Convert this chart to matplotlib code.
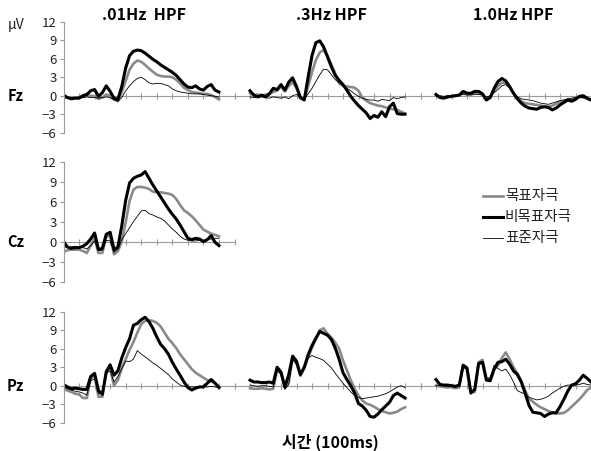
import numpy as np
import matplotlib.pyplot as plt
from matplotlib.lines import Line2D

plt.rcParams['font.family'] = ['Noto Sans CJK KR', 'DejaVu Sans']

# 시간축 (ms), 25 ms 간격
t_ms = np.arange(-100, 901, 25)

# Fz, .01Hz HPF
fz01_target = [-0.2,-0.3,-0.4,-0.3,-0.3,-0.2,0.0,0.0,-0.1,-0.5,-0.3,0.2,0.0,-0.6,-0.9,0.6,2.4,4.2,5.2,5.7,5.5,5.0,4.4,3.9,3.4,3.2,3.1,3.1,3.0,2.6,2.0,1.3,0.9,0.6,0.5,0.4,0.3,0.3,0.1,-0.2,-0.6]
fz01_nontarget = [0.1,-0.3,-0.5,-0.4,-0.4,0.0,0.2,0.8,1.0,-0.1,0.5,1.6,0.7,-0.4,-0.6,1.5,4.5,6.5,7.2,7.4,7.3,6.9,6.4,5.9,5.5,5.0,4.6,4.2,3.8,3.3,2.6,1.9,1.4,1.3,1.6,1.1,0.9,1.5,1.8,0.9,0.6]
fz01_standard = [-0.2,-0.3,-0.3,-0.3,-0.3,-0.3,-0.2,-0.3,-0.3,-0.4,-0.3,-0.2,-0.3,-0.7,-0.9,-0.3,0.8,1.6,2.3,2.8,3.0,2.6,2.1,1.9,2.0,2.0,1.8,1.6,1.1,0.8,0.6,0.5,0.4,0.3,0.3,0.3,0.2,0.1,0.0,-0.1,-0.2]

# Fz, .3Hz HPF
fz3_target = [0.4,0.1,0.2,0.0,0.2,0.3,0.6,0.8,1.5,0.7,1.6,2.2,1.2,-0.4,-0.6,1.5,3.8,5.8,7.0,7.4,6.5,5.0,3.6,2.0,1.6,1.5,1.4,1.3,0.8,-0.3,-0.8,-1.2,-1.4,-1.6,-1.7,-1.9,-2.1,-2.2,-2.3,-2.6,-2.9]
fz3_nontarget = [0.8,0.1,-0.2,0.1,-0.2,0.3,1.2,1.0,1.8,0.9,2.2,2.9,1.5,-0.3,-0.7,3.0,6.5,8.6,8.9,7.9,6.3,4.7,3.3,2.5,1.8,0.9,-0.1,-0.9,-1.6,-2.2,-2.8,-3.7,-3.2,-3.5,-2.6,-3.4,-1.8,-1.2,-2.9,-3.0,-3.0]
fz3_standard = [-0.2,-0.3,-0.3,-0.2,-0.3,-0.4,-0.2,-0.3,-0.4,-0.2,-0.5,0.0,0.2,-0.4,-0.5,0.3,1.2,2.3,3.4,4.3,4.2,3.4,2.6,2.1,1.7,1.2,0.8,0.3,-0.1,-0.4,-0.6,-0.7,-0.7,-0.9,-0.6,-0.7,-0.8,-0.3,-0.5,-0.3,-0.2]

# Fz, 1.0Hz HPF
fz1_target = [0.0,-0.2,-0.3,-0.2,-0.1,0.0,0.1,0.5,0.3,0.3,0.5,0.5,0.2,-0.5,-0.2,0.8,1.6,2.1,2.1,1.4,0.4,-0.4,-0.9,-1.2,-1.3,-1.4,-1.5,-1.6,-1.7,-1.8,-1.6,-1.3,-1.0,-0.8,-0.7,-0.6,-0.4,-0.2,-0.3,-0.5,-0.7]
fz1_nontarget = [0.2,-0.3,-0.4,-0.2,-0.1,0.0,0.1,0.7,0.4,0.4,0.7,0.7,0.3,-0.7,-0.3,1.2,2.3,2.8,2.4,1.5,0.4,-0.5,-1.2,-1.7,-2.0,-2.1,-2.2,-1.9,-1.8,-1.9,-2.3,-2.0,-1.5,-1.1,-0.7,-0.9,-0.6,-0.1,0.0,-0.4,-0.7]
fz1_standard = [0.0,0.0,-0.1,0.0,0.0,0.0,0.1,0.2,0.1,0.1,0.2,0.2,0.1,-0.2,0.0,0.5,1.0,1.6,1.8,1.2,0.5,-0.2,-0.5,-0.6,-0.7,-0.8,-1.0,-1.2,-1.3,-1.4,-1.2,-1.0,-0.8,-0.7,-0.5,-0.4,-0.3,-0.2,-0.3,-0.4,-0.5]

# Cz, .01Hz HPF
cz01_target = [-1.4,-1.2,-1.1,-1.1,-1.1,-1.3,-1.6,-0.5,0.6,-1.6,-1.6,0.9,0.9,-1.8,-1.3,0.1,3.0,6.2,7.9,8.3,8.3,8.2,8.0,7.6,7.5,7.5,7.4,7.3,7.1,6.5,5.6,4.8,4.4,3.9,3.3,2.6,1.9,1.6,1.3,1.1,0.9]
cz01_nontarget = [0.1,-0.7,-0.9,-0.8,-0.8,-0.6,-0.2,0.5,1.4,-1.1,-0.9,1.2,1.5,-1.1,-0.7,2.5,6.3,8.9,9.6,9.9,10.1,10.6,9.6,8.6,7.7,6.8,5.9,5.0,4.2,3.5,2.6,1.6,0.6,0.4,0.6,0.5,0.1,0.4,1.0,0.0,-0.5]
cz01_standard = [-0.6,-0.8,-0.7,-0.6,-0.7,-0.8,-1.0,-0.5,0.2,-1.2,-1.2,0.3,0.2,-1.5,-1.0,0.4,1.3,2.2,3.1,3.9,4.7,4.8,4.3,4.1,3.8,3.6,3.2,2.6,2.0,1.5,0.9,0.5,0.3,0.2,0.2,0.3,0.3,0.4,0.5,0.6,0.6]

# Pz, .01Hz HPF
pz01_target = [-0.4,-0.8,-1.0,-1.3,-1.4,-2.0,-2.0,1.2,1.6,-1.8,-1.8,2.5,2.8,0.0,0.9,2.8,4.3,5.8,7.1,8.6,10.0,10.5,10.6,10.5,10.2,9.6,8.6,7.6,6.9,6.1,5.1,4.3,3.5,2.7,2.1,1.7,1.3,0.9,0.7,0.4,-0.2]
pz01_nontarget = [0.2,-0.2,-0.5,-0.4,-0.5,-0.6,-0.6,1.5,2.0,-0.8,-1.4,2.2,3.4,1.7,2.4,4.5,6.2,7.6,9.8,10.1,10.7,11.1,10.4,9.3,7.9,6.7,6.0,5.1,3.8,2.7,1.7,0.6,-0.3,-0.7,-0.4,-0.2,-0.2,0.4,1.0,0.4,-0.3]
pz01_standard = [-0.2,-0.5,-0.7,-0.9,-1.0,-1.2,-1.5,0.8,1.1,-1.3,-1.2,2.0,2.4,0.6,1.5,2.8,4.0,3.9,4.3,5.7,5.1,4.7,4.2,3.7,3.3,2.8,2.3,1.8,1.1,0.6,0.1,-0.1,-0.2,-0.2,-0.2,-0.2,-0.2,-0.2,-0.1,-0.2,-0.3]

# Pz, .3Hz HPF
pz3_target = [-0.4,-0.5,-0.5,-0.4,-0.5,-0.6,-0.5,2.5,2.0,-0.3,0.5,4.6,3.6,1.6,2.8,4.6,6.2,7.6,9.0,9.3,8.4,7.8,7.0,6.0,4.1,2.5,0.9,-0.5,-1.6,-2.4,-2.9,-3.1,-3.4,-3.8,-4.1,-4.3,-4.5,-4.4,-4.2,-3.8,-3.5]
pz3_nontarget = [0.9,0.6,0.6,0.5,0.5,0.6,0.4,3.0,2.2,-0.2,1.8,4.8,4.0,1.8,3.0,5.0,6.5,7.7,8.8,8.5,8.2,7.5,6.1,4.3,2.1,1.0,0.0,-1.2,-2.9,-3.3,-4.0,-5.0,-5.1,-4.6,-3.9,-3.3,-2.7,-1.6,-1.2,-1.6,-2.0]
pz3_standard = [0.1,0.0,-0.1,0.0,0.0,-0.1,-0.2,2.6,1.8,-0.6,0.2,4.2,3.5,1.7,2.8,4.5,4.9,4.6,4.4,4.1,3.5,2.9,2.0,1.2,0.4,-0.3,-1.0,-1.6,-1.9,-2.1,-2.0,-1.9,-1.8,-1.7,-1.5,-1.3,-1.0,-0.6,-0.2,0.0,-0.3]

# Pz, 1.0Hz HPF
pz1_target = [0.0,-0.1,-0.2,-0.3,-0.2,-0.4,-0.3,3.4,3.0,-1.0,-1.0,3.8,4.2,1.2,1.2,2.6,3.3,4.5,5.4,4.3,3.0,2.0,0.8,-0.8,-2.1,-2.6,-3.1,-3.5,-3.8,-4.1,-4.3,-4.5,-4.5,-4.4,-4.0,-3.4,-2.8,-2.2,-1.5,-0.7,-0.3]
pz1_nontarget = [1.0,0.2,0.1,0.1,0.0,-0.1,0.1,3.3,2.8,-1.2,-0.6,3.6,3.8,0.9,0.8,2.7,3.8,3.9,4.3,3.5,2.4,1.8,0.6,-1.2,-3.2,-4.3,-4.4,-4.5,-5.0,-4.6,-4.4,-4.4,-3.4,-2.2,-0.9,0.1,0.3,0.9,1.7,1.2,0.6]
pz1_standard = [0.0,0.0,0.0,-0.1,-0.1,-0.2,-0.1,3.0,2.6,-0.8,-0.7,3.4,3.8,1.0,1.2,3.3,2.8,2.4,2.7,1.8,0.6,-0.8,-1.1,-1.4,-1.9,-2.1,-2.3,-2.2,-2.0,-1.7,-1.2,-0.8,-0.4,-0.1,0.1,0.1,0.1,0.2,0.4,0.2,0.1]

titles = ['.01Hz  HPF', '.3Hz HPF', '1.0Hz HPF']
legend_labels = ['목표자극', '비목표자극', '표준자극']
yticks = [-6, -3, 0, 3, 6, 9, 12]

W, H = 591, 451
GRAY = '#8a8a8a'
AXC = '#9a9a9a'
styles = [dict(color=GRAY, lw=1.9), dict(color='black', lw=2.2), dict(color='black', lw=0.6)]

fig = plt.figure(figsize=(W / 100, H / 100), dpi=100)

# 패널 위치 (픽셀)
cols = [(63.5, 234.5, -100), (234.5, 420.5, -200), (420.5, 606.5, -200)]
rows = {'Fz': (21.7, 132.7), 'Cz': (162.3, 282.3), 'Pz': (311.7, 422.7)}

panels = [
    ('Fz', 0, (fz01_target, fz01_nontarget, fz01_standard)),
    ('Fz', 1, (fz3_target, fz3_nontarget, fz3_standard)),
    ('Fz', 2, (fz1_target, fz1_nontarget, fz1_standard)),
    ('Cz', 0, (cz01_target, cz01_nontarget, cz01_standard)),
    ('Pz', 0, (pz01_target, pz01_nontarget, pz01_standard)),
    ('Pz', 1, (pz3_target, pz3_nontarget, pz3_standard)),
    ('Pz', 2, (pz1_target, pz1_nontarget, pz1_standard)),
]

for row, ci, series in panels:
    left, right, xmin = cols[ci]
    top, bottom = rows[row]
    ax = fig.add_axes([left / W, 1 - bottom / H, (right - left) / W, (bottom - top) / H])
    ax.patch.set_alpha(0)
    for s, st in zip(series, styles):
        ax.plot(t_ms, s, solid_joinstyle='round', **st)
    ax.set_xlim(xmin, 1000)
    ax.set_ylim(-6, 12)
    ax.spines['top'].set_visible(False)
    ax.spines['right'].set_visible(False)
    ax.spines['bottom'].set_position(('data', 0))
    ax.spines['bottom'].set_color(AXC)
    ax.spines['bottom'].set_zorder(0)
    ax.set_xticks(np.arange(xmin, 1001, 100))
    ax.tick_params(axis='x', direction='inout', length=5, color=AXC, labelbottom=False)
    if ci == 0:
        ax.spines['left'].set_color(AXC)
        ax.set_yticks(yticks)
        ax.tick_params(axis='y', direction='out', length=3, color=AXC, labelsize=9.5,
                       labelcolor='#222222', pad=2)
        fig.text(15.5 / W, 1 - (top + (bottom - top) * 12 / 18) / H, row,
                 fontsize=10.5, fontweight='bold', ha='center', va='center')
    else:
        ax.spines['left'].set_visible(False)
        ax.set_yticks([])

# 제목
for x, title in zip([144, 331, 513], titles):
    fig.text(x / W, 1 - 15 / H, title, fontsize=11.5, fontweight='bold', ha='center', va='center')

fig.text(16 / W, 1 - 25 / H, 'μV', fontsize=10, ha='center', va='center', color='#222222')

# 범례
for y, lab, st in zip([196, 217, 238], legend_labels, styles):
    fig.add_artist(Line2D([483 / W, 503 / W], [1 - y / H, 1 - y / H],
                          transform=fig.transFigure, **st))
    fig.text(505 / W, 1 - y / H, lab, fontsize=10.5, ha='left', va='center', color='#222222')

fig.text(330 / W, 1 - 442 / H, '시간 (100ms)', fontsize=11.5, fontweight='bold',
         ha='center', va='center')

fig.savefig('out.png', dpi=100)
